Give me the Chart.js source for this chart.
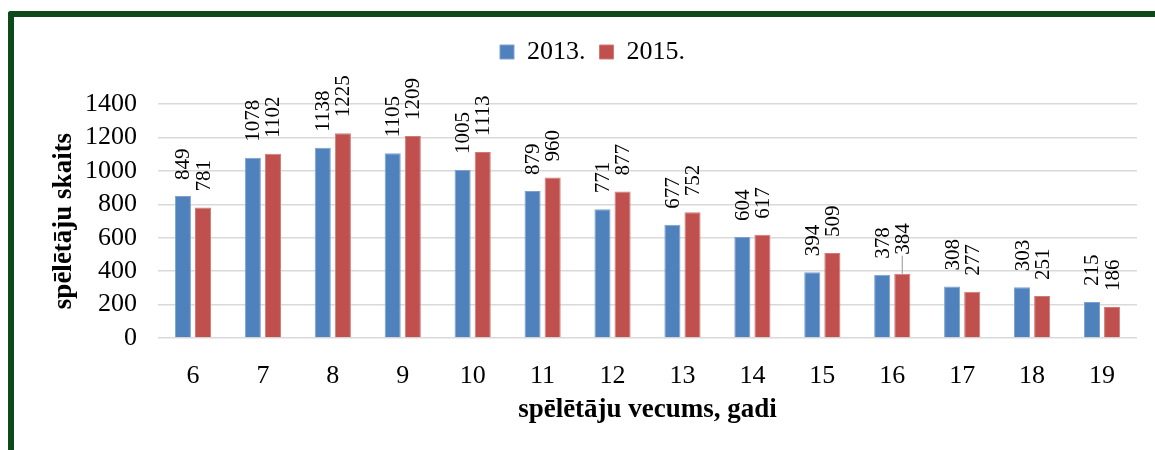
<!DOCTYPE html>
<html><head><meta charset="utf-8">
<script src="https://cdn.jsdelivr.net/npm/chart.js@4"></script>
<style>
html,body{margin:0;padding:0;background:#fff;}
#wrap{position:relative;width:1155px;height:450px;overflow:hidden;background:#fff;}
#frame{position:absolute;left:8px;top:11px;width:1300px;height:600px;border-left:6px solid #0c4a1b;border-top:6px solid #0c4a1b;border-top-left-radius:3px;pointer-events:none;}
canvas{position:absolute;left:0;top:0;}
</style></head><body>
<div id="wrap"><canvas id="c" width="1155" height="450"></canvas><div id="frame"></div></div>
<script>
const ages = ['6','7','8','9','10','11','12','13','14','15','16','17','18','19'];
const values2013 = [849,1078,1138,1105,1005,879,771,677,604,394,378,308,303,215];
const values2015 = [781,1102,1225,1209,1113,960,877,752,617,509,384,277,251,186];
const seriesNames = ['2013.','2015.'];
const yTitle = 'spēlētāju skaits';
const xTitle = 'spēlētāju vecums, gadi';

const SERIF = '"Liberation Serif", "Times New Roman", serif';

const legendSpacer = {
  id: 'legendSpacer',
  beforeInit(chart) {
    const lg = chart.legend;
    const orig = lg.fit;
    lg.fit = function () { orig.call(this); this.height += 29; };
  }
};

const barLabels = {
  id: 'barLabels',
  afterDatasetsDraw(chart, args, opts) {
    const ctx = chart.ctx;
    ctx.save();
    ctx.font = '21px ' + SERIF;
    ctx.fillStyle = '#000';
    ctx.textAlign = 'left';
    ctx.textBaseline = 'middle';
    chart.data.datasets.forEach((ds, di) => {
      const meta = chart.getDatasetMeta(di);
      meta.data.forEach((bar, i) => {
        const yStart = bar.y - opts.gap;
        const lead = (opts.leaders || []).some(l => l.dataset === di && l.index === i);
        if (lead) {
          ctx.save();
          ctx.strokeStyle = '#a6a6a6';
          ctx.lineWidth = 1.2;
          ctx.beginPath();
          ctx.moveTo(bar.x, bar.y);
          ctx.lineTo(bar.x, yStart - 2);
          ctx.stroke();
          ctx.restore();
        }
        const shift = lead ? 3 : 0;
        ctx.save();
        ctx.translate(bar.x + 1, yStart - shift);
        ctx.rotate(-Math.PI / 2);
        ctx.fillText(String(ds.data[i]), 0, 0);
        ctx.restore();
      });
    });
    ctx.restore();
  }
};

new Chart(document.getElementById('c'), {
  type: 'bar',
  data: {
    labels: ages,
    datasets: [
      { label: seriesNames[0], data: values2013, backgroundColor: '#4f81bd', borderColor: '#7da1cf', borderWidth: 1,
        categoryPercentage: 0.575, barPercentage: 0.8 },
      { label: seriesNames[1], data: values2015, backgroundColor: '#c0504d', borderColor: '#d07a77', borderWidth: 1,
        categoryPercentage: 0.575, barPercentage: 0.8 }
    ]
  },
  options: {
    responsive: false,
    animation: false,
    devicePixelRatio: 1,
    layout: { padding: { left: 48, right: 18, top: 25, bottom: 0 } },
    plugins: {
      legend: {
        position: 'top',
        labels: { boxWidth: 14, boxHeight: 14, font: { family: SERIF, size: 26 }, color: '#000', padding: 14 }
      },
      tooltip: { enabled: false },
      barLabels: { gap: 16, leaders: [{ dataset: 1, index: 10 }] }
    },
    scales: {
      x: {
        grid: { display: false },
        border: { display: false },
        ticks: { font: { family: SERIF, size: 26 }, color: '#000', padding: 15, maxRotation: 0, autoSkip: false },
        title: { display: true, text: xTitle, font: { family: SERIF, size: 27, weight: 'bold' }, color: '#000', padding: { top: 4, bottom: 24 } },
        afterFit(s) { s.height = 112; }
      },
      y: {
        min: 0, max: 1400,
        ticks: { stepSize: 200, font: { family: SERIF, size: 26 }, color: '#000', padding: 21, autoSkip: false,
                 callback: v => String(v) },
        grid: { color: '#d9d9d9', lineWidth: 1.5, drawTicks: false },
        border: { display: false },
        title: { display: true, text: yTitle, font: { family: SERIF, size: 27, weight: 'bold' }, color: '#000', padding: { top: 0, bottom: 0 } },
        afterFit(s) { s.width = 110; }
      }
    }
  },
  plugins: [legendSpacer, barLabels]
});
</script>
</body></html>
